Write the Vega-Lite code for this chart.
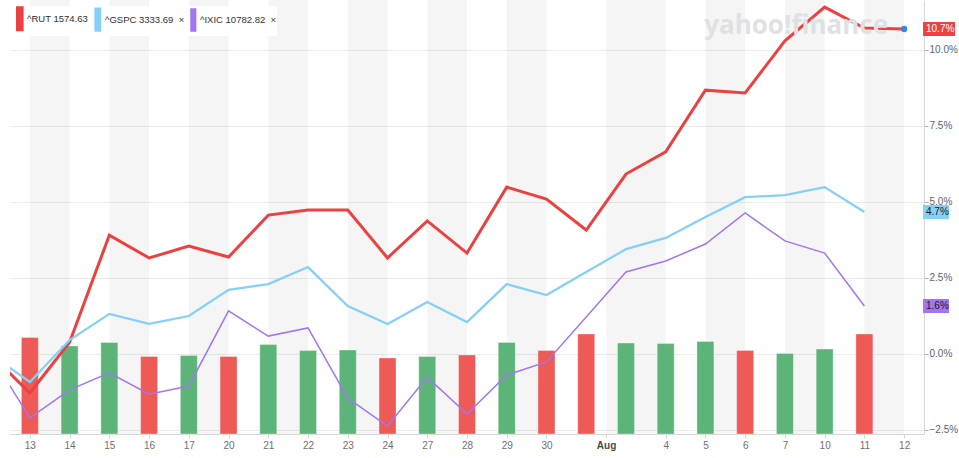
{
  "$schema": "https://vega.github.io/schema/vega-lite/v6.json",
  "width": 914,
  "height": 434,
  "autosize": {"type": "none"},
  "padding": {"left": 10, "top": 0, "right": 35, "bottom": 24},
  "background": "white",
  "config": {"view": {"stroke": null}, "font": "Liberation Sans", "scale": {"continuousPadding": 0}},
  "title": {"text": "yahoo!finance", "orient": "top", "anchor": "end", "frame": "group", "offset": -60, "baseline": "alphabetic", "dx": -36, "fontSize": 26, "fontWeight": "bold", "color": "#dfe1e5", "font": "Open Sans"},
  "datasets": {
    "days": [
      {"i": -1, "d": "Jul 10", "rut": 0, "gspc": 0, "ixic": 0},
      {"i": 0, "d": "Jul 13", "rut": -1.29, "gspc": -0.93, "ixic": -2.11, "vol": 4.82, "dir": "down"},
      {"i": 1, "d": "Jul 14", "rut": 0.38, "gspc": 0.45, "ixic": -1.19, "vol": 4.40, "dir": "up"},
      {"i": 2, "d": "Jul 15", "rut": 3.90, "gspc": 1.31, "ixic": -0.63, "vol": 4.58, "dir": "up"},
      {"i": 3, "d": "Jul 16", "rut": 3.15, "gspc": 0.98, "ixic": -1.33, "vol": 3.88, "dir": "down"},
      {"i": 4, "d": "Jul 17", "rut": 3.54, "gspc": 1.24, "ixic": -1.06, "vol": 3.92, "dir": "up"},
      {"i": 5, "d": "Jul 20", "rut": 3.18, "gspc": 2.10, "ixic": 1.41, "vol": 3.88, "dir": "down"},
      {"i": 6, "d": "Jul 21", "rut": 4.56, "gspc": 2.29, "ixic": 0.58, "vol": 4.47, "dir": "up"},
      {"i": 7, "d": "Jul 22", "rut": 4.73, "gspc": 2.85, "ixic": 0.85, "vol": 4.17, "dir": "up"},
      {"i": 8, "d": "Jul 23", "rut": 4.73, "gspc": 1.57, "ixic": -1.46, "vol": 4.20, "dir": "up"},
      {"i": 9, "d": "Jul 24", "rut": 3.15, "gspc": 0.98, "ixic": -2.38, "vol": 3.80, "dir": "down"},
      {"i": 10, "d": "Jul 27", "rut": 4.37, "gspc": 1.70, "ixic": -0.77, "vol": 3.87, "dir": "up"},
      {"i": 11, "d": "Jul 28", "rut": 3.31, "gspc": 1.04, "ixic": -1.98, "vol": 3.95, "dir": "down"},
      {"i": 12, "d": "Jul 29", "rut": 5.48, "gspc": 2.29, "ixic": -0.70, "vol": 4.58, "dir": "up"},
      {"i": 13, "d": "Jul 30", "rut": 5.09, "gspc": 1.93, "ixic": -0.27, "vol": 4.18, "dir": "down"},
      {"i": 14, "d": "Jul 31", "rut": 4.07, "gspc": 2.69, "ixic": 1.21, "vol": 5.00, "dir": "down"},
      {"i": 15, "d": "Aug 3", "rut": 5.91, "gspc": 3.44, "ixic": 2.69, "vol": 4.55, "dir": "up"},
      {"i": 16, "d": "Aug 4", "rut": 6.64, "gspc": 3.81, "ixic": 3.05, "vol": 4.52, "dir": "up"},
      {"i": 17, "d": "Aug 5", "rut": 8.67, "gspc": 4.50, "ixic": 3.61, "vol": 4.63, "dir": "up"},
      {"i": 18, "d": "Aug 6", "rut": 8.58, "gspc": 5.15, "ixic": 4.63, "vol": 4.18, "dir": "down"},
      {"i": 19, "d": "Aug 7", "rut": 10.29, "gspc": 5.22, "ixic": 3.71, "vol": 4.03, "dir": "up"},
      {"i": 20, "d": "Aug 10", "rut": 11.40, "gspc": 5.48, "ixic": 3.31, "vol": 4.25, "dir": "up"},
      {"i": 21, "d": "Aug 11", "rut": 10.71, "gspc": 4.66, "ixic": 1.57, "vol": 5.00, "dir": "down"},
      {"i": 22, "d": "Aug 12", "rut": 10.68}
    ],
    "bands": [
      {"from": 0, "to": 1}, {"from": 2, "to": 3}, {"from": 4, "to": 5},
      {"from": 6, "to": 7}, {"from": 8, "to": 9}, {"from": 10, "to": 11},
      {"from": 12, "to": 13}, {"from": 14.5, "to": 16}, {"from": 17, "to": 18},
      {"from": 19, "to": 20}, {"from": 21, "to": 22}
    ]
  },
  "layer": [
    {
      "data": {"name": "bands"},
      "mark": {"type": "rect", "fill": "#000000", "opacity": 0.04},
      "encoding": {
        "x": {
          "field": "from", "type": "quantitative",
          "scale": {"domain": [-0.5, 22.5], "nice": false, "zero": false, "padding": 0},
          "axis": {
            "values": [0, 1, 2, 3, 4, 5, 6, 7, 8, 9, 10, 11, 12, 13, 14.5, 16, 17, 18, 19, 20, 21, 22],
            "labelExpr": "datum.value == 14.5 ? 'Aug' : ['13','14','15','16','17','20','21','22','23','24','27','28','29','30','31','3','4','5','6','7','10','11','12'][datum.value]",
            "title": null, "grid": false, "orient": "bottom",
            "domainColor": "#d6d6d6", "tickColor": "#d6d6d6", "tickSize": 4,
            "labelColor": {"condition": {"test": "datum.value == 14.5", "value": "#4a4a4a"}, "value": "#707070"},
            "labelFontWeight": {"condition": {"test": "datum.value == 14.5", "value": "bold"}, "value": "normal"},
            "labelFontSize": 10, "labelPadding": 2, "labelFlush": false, "labelOverlap": false
          }
        },
        "x2": {"field": "to"}
      }
    },
    {
      "data": {"name": "days"},
      "transform": [{"filter": "isValid(datum.vol)"}],
      "mark": {"type": "bar", "width": 17, "stroke": "#ffffff", "strokeOpacity": 0.35, "strokeWidth": 1},
      "encoding": {
        "x": {"field": "i", "type": "quantitative"},
        "y": {"field": "vol", "type": "quantitative", "scale": {"domain": [0, 21.7], "nice": false}, "axis": null},
        "color": {"condition": {"test": "datum.dir == 'up'", "value": "#5db478"}, "value": "#ee5a55"}
      }
    },
    {
      "data": {"name": "days"},
      "transform": [
        {"fold": ["rut", "gspc", "ixic"], "as": ["key", "pct"]},
        {"filter": "isValid(datum.pct)"}
      ],
      "layer": [
        {
          "mark": {"type": "line", "clip": true},
          "encoding": {
            "x": {"field": "i", "type": "quantitative"},
            "y": {
              "field": "pct", "type": "quantitative",
              "scale": {"domain": [-2.64, 11.635], "nice": false, "zero": false},
              "axis": {
                "orient": "right", "values": [-2.5, 0, 2.5, 5, 7.5, 10],
                "labelExpr": "format(datum.value, '.1f') + '%'",
                "title": null, "grid": true, "gridColor": "#ececec",
                "domainColor": "#d6d6d6", "tickColor": "#b0b0b0", "tickSize": 4,
                "labelPadding": 1, "labelColor": "#5f6368", "labelFontSize": 10
              }
            },
            "color": {
              "field": "key", "type": "nominal",
              "scale": {"domain": ["rut", "gspc", "ixic"], "range": ["#ec4141", "#85d0f8", "#a275f5"]},
              "legend": {
                "orient": "top-left", "offset": 6, "direction": "horizontal", "title": null,
                "symbolType": "M-1,-1H-0.58V1H-1Z", "symbolSize": 484, "symbolStrokeWidth": 0,
                "labelFontSize": 9.5, "labelColor": "#333333", "labelOffset": -14, "columnPadding": 3,
                "fillColor": "#ffffff", "padding": 0,
                "labelExpr": "datum.label == 'rut' ? '^RUT 1574.63' : datum.label == 'gspc' ? '^GSPC 3333.69\u00a0 \u00d7' : '^IXIC 10782.82\u00a0 \u00d7'",
                "encode": {"symbols": {"update": {"fill": {"scale": "color", "field": "value"}, "stroke": {"value": "transparent"}}}}
              }
            },
            "strokeWidth": {"field": "key", "type": "nominal", "scale": {"domain": ["rut", "gspc", "ixic"], "range": [3, 1.5, 1.5]}, "legend": null}
          }
        },
        {
          "transform": [{"filter": "datum.key == 'rut' && datum.i == 22"}],
          "mark": {"type": "point", "filled": true, "opacity": 1, "size": 40, "color": "#3585e5"},
          "encoding": {
            "x": {"field": "i", "type": "quantitative"},
            "y": {"field": "pct", "type": "quantitative"}
          }
        },
        {
          "transform": [
            {"aggregate": [{"op": "argmax", "field": "i", "as": "last"}], "groupby": ["key"]},
            {"calculate": "datum.last.pct", "as": "lastPct"},
            {"calculate": "datum.last.i + 0.5 + (22 - datum.last.i)", "as": "edge"},
            {"filter": "datum.key == 'rut'"}
          ],
          "mark": {"type": "point", "filled": true, "opacity": 1, "size": 1024, "clip": false, "shape": "M-0.06,-0.44H1.94V0.44H-0.06Z"},
          "encoding": {
            "x": {"field": "edge", "type": "quantitative"},
            "y": {"field": "lastPct", "type": "quantitative"},
            "color": {"field": "key", "type": "nominal", "legend": null}
          }
        },
        {
          "transform": [
            {"aggregate": [{"op": "argmax", "field": "i", "as": "last"}], "groupby": ["key"]},
            {"calculate": "datum.last.pct", "as": "lastPct"},
            {"calculate": "datum.last.i + 0.5 + (22 - datum.last.i)", "as": "edge"},
            {"filter": "datum.key != 'rut'"}
          ],
          "mark": {"type": "point", "filled": true, "opacity": 1, "size": 1024, "clip": false, "shape": "M-0.06,-0.44H1.56V0.44H-0.06Z"},
          "encoding": {
            "x": {"field": "edge", "type": "quantitative"},
            "y": {"field": "lastPct", "type": "quantitative"},
            "color": {"field": "key", "type": "nominal", "legend": null}
          }
        },
        {
          "transform": [
            {"aggregate": [{"op": "argmax", "field": "i", "as": "last"}], "groupby": ["key"]},
            {"calculate": "datum.last.pct", "as": "lastPct"},
            {"calculate": "datum.last.i + 0.5 + (22 - datum.last.i)", "as": "edge"},
            {"calculate": "format(datum.lastPct, '.1f') + '%'", "as": "tag"}
          ],
          "mark": {"type": "text", "align": "left", "baseline": "middle", "dx": 2, "fontSize": 10, "clip": false},
          "encoding": {
            "x": {"field": "edge", "type": "quantitative"},
            "y": {"field": "lastPct", "type": "quantitative"},
            "text": {"field": "tag"},
            "color": {"condition": {"test": "datum.key == 'rut'", "value": "#ffffff"}, "value": "#1b1b1b"}
          }
        }
      ]
    }
  ],
  "resolve": {"scale": {"y": "independent"}, "axis": {"x": "shared"}}
}
